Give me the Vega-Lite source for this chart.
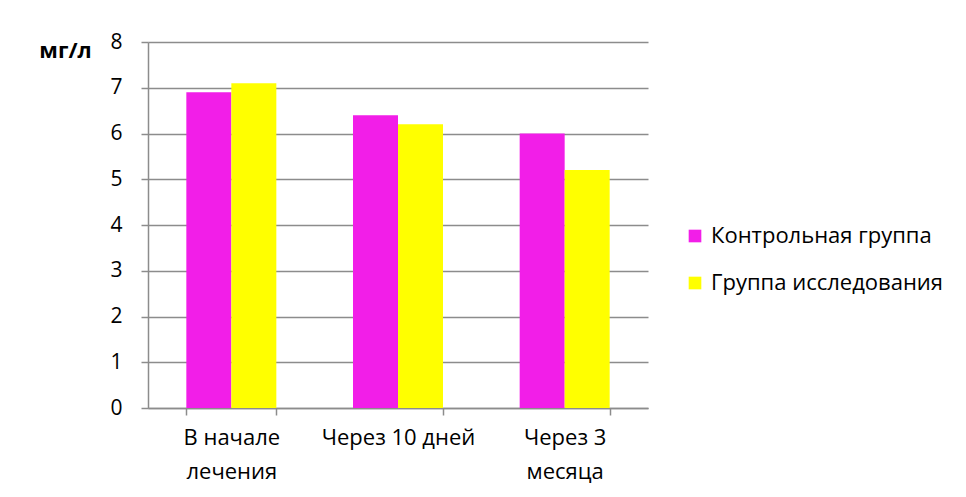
{
  "$schema": "https://vega.github.io/schema/vega-lite/v6.json",
  "width": 500,
  "height": 366,
  "autosize": {"type": "none"},
  "padding": {"left": 148, "top": 42, "right": 318, "bottom": 89},
  "background": "white",
  "config": {
    "font": "Open Sans",
    "view": {"stroke": null},
    "axis": {
      "labelFont": "Open Sans",
      "labelFontSize": 22,
      "labelColor": "#000000",
      "domainColor": "#8c8c8c",
      "domainWidth": 1.5,
      "tickColor": "#8c8c8c",
      "tickWidth": 1.5,
      "tickSize": 7,
      "gridColor": "#8c8c8c",
      "gridWidth": 1.5
    },
    "legend": {
      "labelFont": "Open Sans",
      "labelFontSize": 22,
      "labelColor": "#000000",
      "labelLimit": 400
    }
  },
  "data": {
    "values": [
      {"period": "В начале лечения", "group": "Контрольная группа", "value": 6.9},
      {"period": "В начале лечения", "group": "Группа исследования", "value": 7.1},
      {"period": "Через 10 дней", "group": "Контрольная группа", "value": 6.4},
      {"period": "Через 10 дней", "group": "Группа исследования", "value": 6.2},
      {"period": "Через 3 месяца", "group": "Контрольная группа", "value": 6.0},
      {"period": "Через 3 месяца", "group": "Группа исследования", "value": 5.2}
    ]
  },
  "mark": {"type": "bar"},
  "encoding": {
    "x": {
      "field": "period",
      "type": "nominal",
      "sort": ["В начале лечения", "Через 10 дней", "Через 3 месяца"],
      "scale": {"paddingInner": 0.46, "paddingOuter": 0.23},
      "axis": {
        "title": null,
        "labelAngle": 0,
        "tickBand": "extent",
        "labelPadding": 12,
        "labelBaseline": "top",
        "labelLineHeight": 34,
        "labelExpr": "datum.value == 'В начале лечения' ? ['В начале', 'лечения'] : datum.value == 'Через 3 месяца' ? ['Через 3', 'месяца'] : datum.value"
      }
    },
    "xOffset": {
      "field": "group",
      "type": "nominal",
      "sort": ["Контрольная группа", "Группа исследования"],
      "scale": {"paddingInner": 0, "paddingOuter": 0}
    },
    "y": {
      "field": "value",
      "type": "quantitative",
      "scale": {"domain": [0, 8], "nice": false},
      "axis": {
        "values": [0, 1, 2, 3, 4, 5, 6, 7, 8],
        "format": "d",
        "labelFontSize": 21,
        "labelPadding": 19,
        "title": "мг/л",
        "titleAngle": 0,
        "titleFont": "Open Sans",
        "titleFontSize": 22,
        "titleFontWeight": "bold",
        "titleAlign": "center",
        "titleBaseline": "middle",
        "titleX": -83,
        "titleY": 8
      }
    },
    "color": {
      "field": "group",
      "type": "nominal",
      "sort": ["Контрольная группа", "Группа исследования"],
      "scale": {"range": ["#f21ee8", "#ffff00"]},
      "legend": {
        "title": null,
        "orient": "none",
        "legendX": 536,
        "legendY": 183,
        "symbolType": "square",
        "symbolSize": 160,
        "symbolStrokeWidth": 0,
        "symbolOpacity": 1,
        "labelOffset": 5,
        "rowPadding": 25
      }
    }
  }
}
